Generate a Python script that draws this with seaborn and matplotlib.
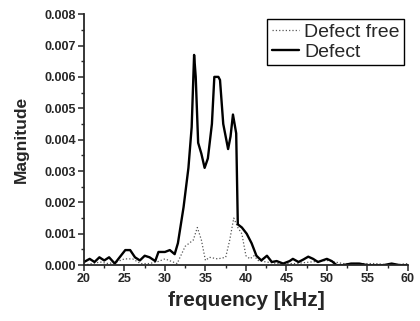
import matplotlib
matplotlib.use('Agg')
import matplotlib.pyplot as plt
import seaborn as sns
from matplotlib.ticker import MultipleLocator

sns.set_style('ticks')
plt.rcParams['font.family'] = ['Liberation Sans', 'DejaVu Sans']

# defect curve
freq_defect = [20, 20.7, 21.3, 21.9, 22.5, 23.1, 23.8, 24.4, 25.1, 25.7, 26.3, 26.9,
               27.5, 28.1, 28.8, 29.2, 30.0, 30.6, 31.2, 31.6, 32.3, 32.9, 33.3, 33.6,
               33.8, 34.1, 34.5, 34.9, 35.3, 35.8, 36.1, 36.6, 36.8, 37.2, 37.8, 38.1,
               38.4, 38.8, 39.0, 39.5, 40.1, 40.7, 41.3, 41.9, 42.6, 43.2, 43.8, 44.6,
               45.4, 45.8, 46.5, 47.1, 47.7, 48.3, 48.9, 50.0, 50.6, 51.2, 52.0, 53.0,
               54.0, 55.0, 56.0, 57.0, 58.0, 59.0, 60.0]
mag_defect = [0.0001, 0.0002, 0.0001, 0.00025, 0.00015, 0.00025, 0.00005, 0.00025,
              0.00048, 0.00048, 0.00025, 0.00015, 0.0003, 0.00025, 0.00013, 0.00042,
              0.00042, 0.00048, 0.00035, 0.0007, 0.00185, 0.0031, 0.0044, 0.0067,
              0.006, 0.0039, 0.00355, 0.0031, 0.0034, 0.0045, 0.006, 0.006, 0.0059,
              0.0045, 0.0037, 0.0041, 0.0048, 0.0042, 0.0013, 0.0012, 0.001, 0.0007,
              0.0003, 0.00015, 0.0003, 0.0001, 0.00013, 0.00005, 0.00013, 0.0002,
              0.0001, 0.00018, 0.00027, 0.0002, 0.0001, 0.0002, 0.00013, 0.0, 0.0,
              0.00005, 0.00005, 0.0, 0.0, 0.0, 0.00005, 0.0, 0.0]

# defect free curve
freq_free = [20, 21, 22, 23, 24, 25, 26, 27, 28, 29, 30, 30.5, 31.5, 32.5, 33.5,
             34.0, 34.5, 35.0, 35.5, 36.5, 37.5, 38.0, 38.5, 39.0, 39.5, 40.0, 40.5,
             41.0, 41.5, 42.5, 44, 46, 48, 50, 52, 54, 56, 58, 60]
mag_free = [0.0, 0.00005, 0.0001, 0.00005, 0.0001, 0.0002, 0.0002, 0.00005, 0.00005,
            0.0001, 0.0002, 0.00015, 0.00005, 0.0006, 0.0008, 0.0012, 0.0008, 0.00015,
            0.00025, 0.0002, 0.00025, 0.0008, 0.0015, 0.0012, 0.001, 0.0003, 0.0002,
            0.0003, 0.00015, 0.0001, 0.00005, 0.00005, 0.0001, 0.00015, 0.00005,
            0.00005, 0.00005, 0.0, 0.00005]

fig = plt.figure(figsize=(4.2, 3.21), dpi=100)
ax = fig.add_axes([0.2, 0.174, 0.771, 0.782])

sns.lineplot(x=freq_free, y=mag_free, ax=ax, color='#555555', lw=0.9,
             linestyle=':', label='Defect free')
sns.lineplot(x=freq_defect, y=mag_defect, ax=ax, color='black', lw=1.7,
             label='Defect')

ax.set_xlim(20, 60)
ax.set_ylim(0, 0.008)
ax.xaxis.set_major_locator(MultipleLocator(5))
ax.xaxis.set_minor_locator(MultipleLocator(2.5))
ax.yaxis.set_major_locator(MultipleLocator(0.001))
ax.yaxis.set_minor_locator(MultipleLocator(0.0005))
ax.yaxis.set_major_formatter(matplotlib.ticker.FormatStrFormatter('%.3f'))
sns.despine(ax=ax)
for sp in ['left', 'bottom']:
    ax.spines[sp].set_linewidth(1.3)
ax.tick_params(which='major', length=4, width=1.1, labelsize=9, pad=2)
ax.tick_params(which='minor', length=2.5, width=1)
for lab in ax.get_xticklabels() + ax.get_yticklabels():
    lab.set_fontweight('bold')

ax.set_xlabel('frequency [kHz]', fontsize=15, fontweight='bold', labelpad=4)
ax.set_ylabel('Magnitude', fontsize=12.5, fontweight='bold', labelpad=11)

leg = ax.legend(loc='upper right', bbox_to_anchor=(0.995, 0.99), fontsize=14,
                frameon=True, fancybox=False, edgecolor='black', framealpha=1,
                handlelength=1.4, handletextpad=0.25, borderpad=0.25,
                labelspacing=0.1, borderaxespad=0.1)
leg.get_frame().set_linewidth(1.0)

fig.savefig('out.png', dpi=100)
